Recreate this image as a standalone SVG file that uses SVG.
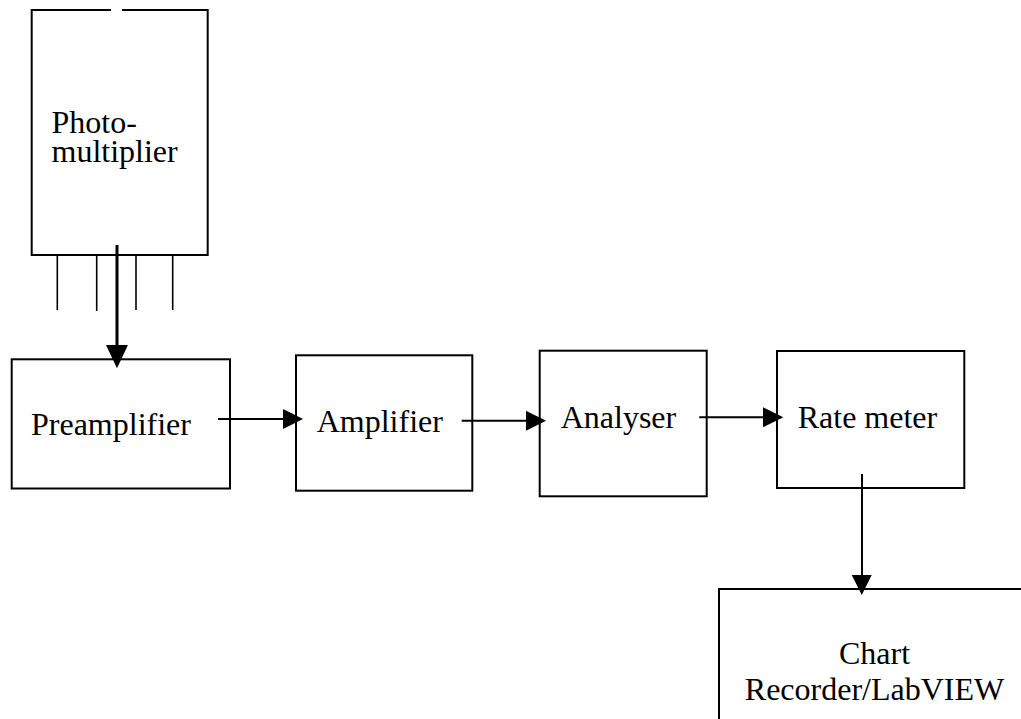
<svg xmlns="http://www.w3.org/2000/svg" width="1021" height="719" viewBox="0 0 1021 719">
<style>
.box{fill:#fff;stroke:#000;stroke-width:2}
.pin{stroke:#000;stroke-width:1.6;fill:none}
.conn{stroke:#000;stroke-width:2;fill:none}
.thick{stroke:#000;stroke-width:3;fill:none}
.head{fill:#000;stroke:none}
text{font-family:"Liberation Serif","Times New Roman",serif;font-size:32px;fill:#000}
</style>
<rect width="1021" height="719" fill="#fff"/>
<g id="photomultiplier">
<path class="box" d="M111,10 H31.7 V255 H207.7 V10 H122"/>
<line class="pin" x1="57.3" y1="255" x2="57.3" y2="310"/>
<line class="pin" x1="96.7" y1="255" x2="96.7" y2="311"/>
<line class="pin" x1="136" y1="255" x2="136" y2="310"/>
<line class="pin" x1="172.7" y1="255" x2="172.7" y2="310"/>
<text x="51.5" y="133.3">Photo-</text>
<text x="51.5" y="161.7">multiplier</text>
</g>
<g id="preamplifier">
<rect class="box" x="11.7" y="359.3" width="218.3" height="129.2"/>
<text x="31" y="435">Preamplifier</text>
</g>
<g id="amplifier">
<rect class="box" x="296" y="355.3" width="176.3" height="135.4"/>
<text x="316.7" y="432">Amplifier</text>
</g>
<g id="analyser">
<rect class="box" x="539.7" y="350.7" width="167" height="145.6"/>
<text x="560.7" y="428">Analyser</text>
</g>
<g id="ratemeter">
<rect class="box" x="777" y="351" width="187.3" height="137"/>
<text x="797.7" y="428.3">Rate meter</text>
</g>
<g id="chart">
<rect class="box" x="719" y="589" width="330" height="160"/>
<text x="874.5" y="664" text-anchor="middle">Chart</text>
<text x="874.5" y="700" text-anchor="middle">Recorder/LabVIEW</text>
</g>
<g id="connectors">
<line class="thick" x1="117" y1="245" x2="117" y2="346"/>
<polygon class="head" points="106,345 128,345 117,368.3"/>
<line class="conn" x1="218" y1="419" x2="284" y2="419"/>
<polygon class="head" points="283,409 283,429 303,419"/>
<line class="conn" x1="461.7" y1="420.7" x2="527" y2="420.7"/>
<polygon class="head" points="526,410.7 526,430.7 546,420.7"/>
<line class="conn" x1="699.3" y1="417.3" x2="764" y2="417.3"/>
<polygon class="head" points="763,407.3 763,427.3 783.3,417.3"/>
<line class="conn" x1="862" y1="474" x2="862" y2="576"/>
<polygon class="head" points="851.7,575 871.7,575 861.8,595"/>
</g>
</svg>
